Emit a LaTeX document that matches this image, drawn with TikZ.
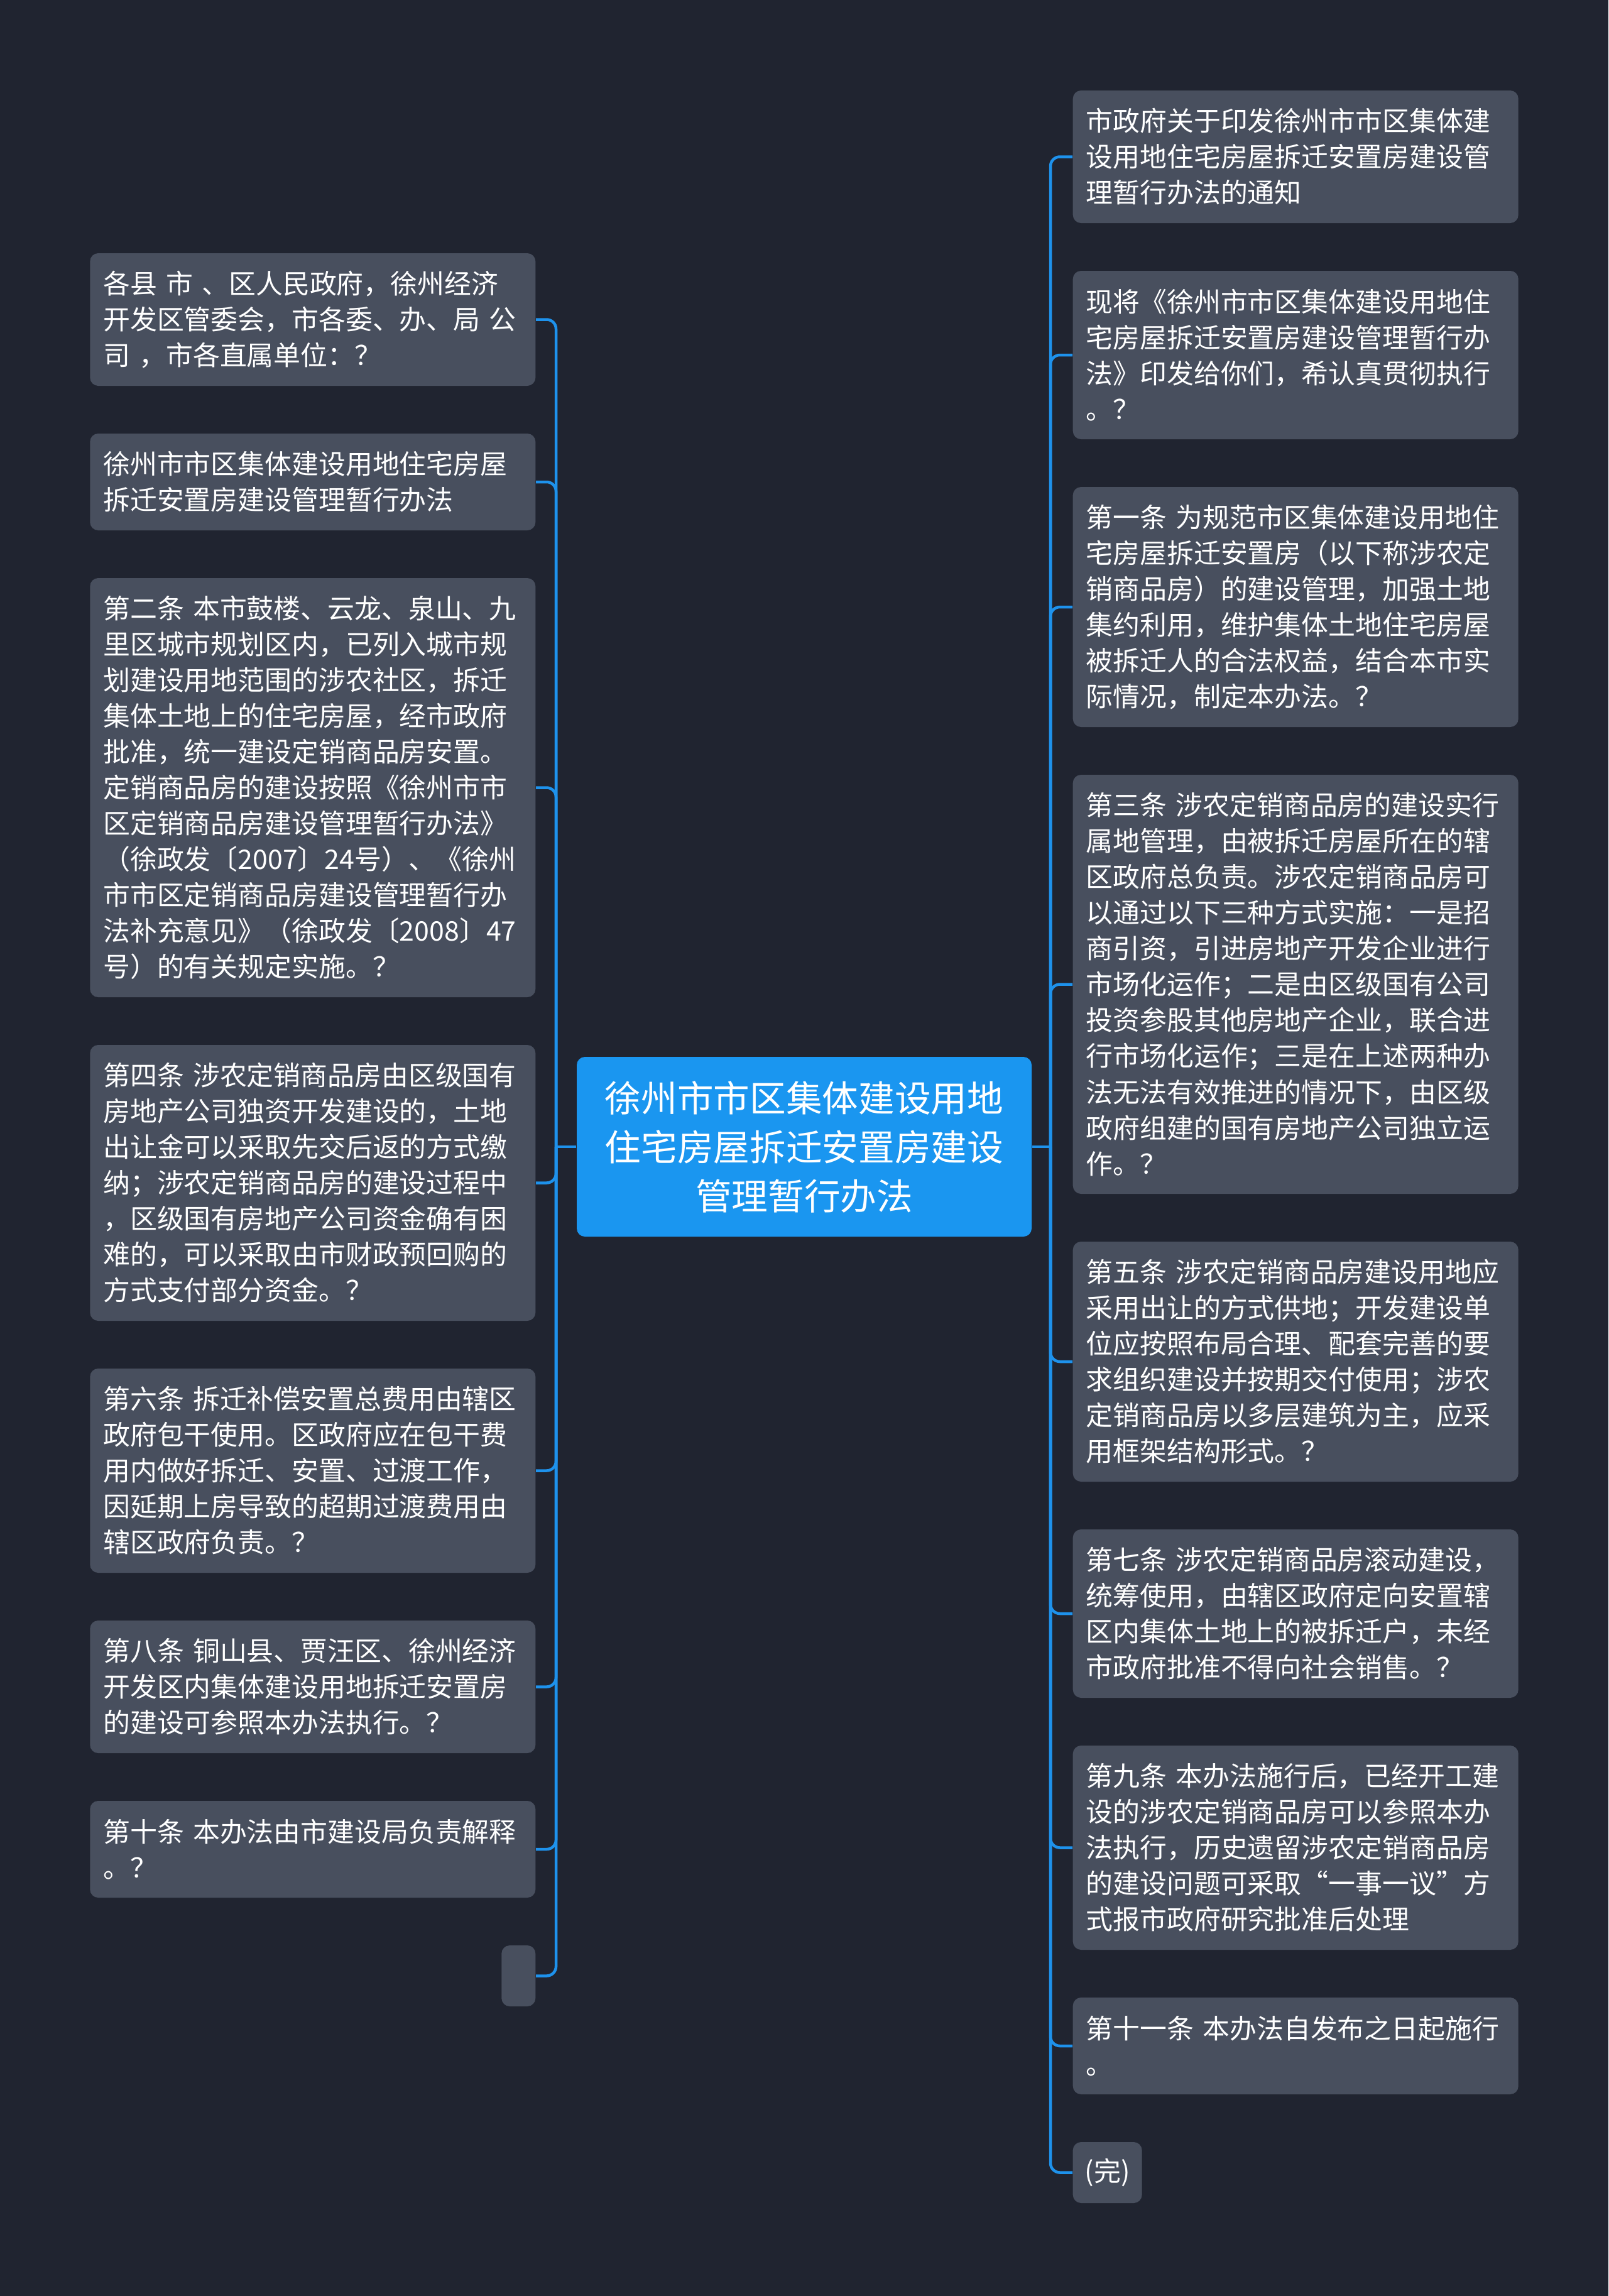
\documentclass[tikz,border=0pt]{standalone}
\usepackage{fontspec}
\setmainfont{Noto Sans CJK SC}

\definecolor{bgc}{RGB}{32,36,48}
\definecolor{boxc}{RGB}{72,79,94}
\definecolor{rootc}{RGB}{26,150,240}
\definecolor{linkc}{RGB}{30,146,236}

\tikzstyle{element}=[rectangle, fill=boxc, text=white, rounded corners=0.13cm,
                     inner xsep=0.21cm, inner ysep=0cm,
                     font=\fontsize{12.2pt}{16.22pt}\selectfont]
\tikzstyle{leaf}=[element, text width=6.67cm, align=left]
\tikzstyle{lleaf}=[leaf, anchor=east]
\tikzstyle{rleaf}=[leaf, anchor=west]
\tikzstyle{root}=[rectangle, fill=rootc, text=white, rounded corners=0.13cm,
                  minimum width=7.24cm, minimum height=2.86cm, align=center,
                  font=\fontsize{16.4pt}{22.2pt}\selectfont]
\tikzstyle{link}=[draw=linkc, line width=0.045cm, rounded corners=0.15cm]
\tikzset{nlines/.style={minimum height={0.4cm+#1*0.57cm}}}

\begin{document}
\begin{tikzpicture}

\fill[bgc] (0, 0) rectangle (25.6, -36.54);
\useasboundingbox (0, 0) rectangle (25.6, -36.54);

%%%%%%%%%%%%%%%%%%%%%%%%%%%%%%
% nodes

% root
\node (root) at (12.80, -18.25) [root] {徐州市市区集体建设用地\\住宅房屋拆迁安置房建设\\管理暂行办法};

% left
\node (l1) at (8.53, -5.085) [lleaf, nlines=3] {各县 市 、区人民政府，徐州经济\\开发区管委会，市各委、办、局 公\\司 ，市各直属单位：？};
\node (l2) at (8.53, -7.67) [lleaf, nlines=2] {徐州市市区集体建设用地住宅房屋\\拆迁安置房建设管理暂行办法};
\node (l3) at (8.53, -12.535) [lleaf, nlines=11] {第二条 本市鼓楼、云龙、泉山、九\\里区城市规划区内，已列入城市规\\划建设用地范围的涉农社区，拆迁\\集体土地上的住宅房屋，经市政府\\批准，统一建设定销商品房安置。\\定销商品房的建设按照《徐州市市\\区定销商品房建设管理暂行办法》\\（徐政发〔2007〕24号）、《徐州\\市市区定销商品房建设管理暂行办\\法补充意见》（徐政发〔2008〕47\\号）的有关规定实施。？};
\node (l4) at (8.53, -18.825) [lleaf, nlines=7] {第四条 涉农定销商品房由区级国有\\房地产公司独资开发建设的，土地\\出让金可以采取先交后返的方式缴\\纳；涉农定销商品房的建设过程中\\，区级国有房地产公司资金确有困\\难的，可以采取由市财政预回购的\\方式支付部分资金。？};
\node (l5) at (8.53, -23.405) [lleaf, nlines=5] {第六条 拆迁补偿安置总费用由辖区\\政府包干使用。区政府应在包干费\\用内做好拆迁、安置、过渡工作，\\因延期上房导致的超期过渡费用由\\辖区政府负责。？};
\node (l6) at (8.53, -26.845) [lleaf, nlines=3] {第八条 铜山县、贾汪区、徐州经济\\开发区内集体建设用地拆迁安置房\\的建设可参照本办法执行。？};
\node (l7) at (8.53, -29.43) [lleaf, nlines=2] {第十条 本办法由市建设局负责解释\\。？};
\node (l8) at (8.53, -31.445) [element, nlines=1, minimum width=0.54cm, anchor=east] {};

% right
\node (r1) at (17.07, -2.495) [rleaf, nlines=3] {市政府关于印发徐州市市区集体建\\设用地住宅房屋拆迁安置房建设管\\理暂行办法的通知};
\node (r2) at (17.07, -5.65) [rleaf, nlines=4] {现将《徐州市市区集体建设用地住\\宅房屋拆迁安置房建设管理暂行办\\法》印发给你们，希认真贯彻执行\\。？};
\node (r3) at (17.07, -9.66) [rleaf, nlines=6] {第一条 为规范市区集体建设用地住\\宅房屋拆迁安置房（以下称涉农定\\销商品房）的建设管理，加强土地\\集约利用，维护集体土地住宅房屋\\被拆迁人的合法权益，结合本市实\\际情况，制定本办法。？};
\node (r4) at (17.07, -15.665) [rleaf, nlines=11] {第三条 涉农定销商品房的建设实行\\属地管理，由被拆迁房屋所在的辖\\区政府总负责。涉农定销商品房可\\以通过以下三种方式实施：一是招\\商引资，引进房地产开发企业进行\\市场化运作；二是由区级国有公司\\投资参股其他房地产企业，联合进\\行市场化运作；三是在上述两种办\\法无法有效推进的情况下，由区级\\政府组建的国有房地产公司独立运\\作。？};
\node (r5) at (17.07, -21.67) [rleaf, nlines=6] {第五条 涉农定销商品房建设用地应\\采用出让的方式供地；开发建设单\\位应按照布局合理、配套完善的要\\求组织建设并按期交付使用；涉农\\定销商品房以多层建筑为主，应采\\用框架结构形式。？};
\node (r6) at (17.07, -25.68) [rleaf, nlines=4] {第七条 涉农定销商品房滚动建设，\\统筹使用，由辖区政府定向安置辖\\区内集体土地上的被拆迁户，未经\\市政府批准不得向社会销售。？};
\node (r7) at (17.07, -29.405) [rleaf, nlines=5] {第九条 本办法施行后，已经开工建\\设的涉农定销商品房可以参照本办\\法执行，历史遗留涉农定销商品房\\的建设问题可采取“一事一议”方\\式报市政府研究批准后处理};
\node (r8) at (17.07, -32.56) [rleaf, nlines=2] {第十一条 本办法自发布之日起施行\\。};
\node (r9) at (17.07, -34.575) [element, nlines=1, anchor=west, inner xsep=0.19cm] {(完)};

%%%%%%%%%%%%%%%%%%%%%%%%%%%%%%
% links

\coordinate (lsp) at (8.85, -18.25);
\coordinate (rsp) at (16.72, -18.25);

\draw [link] (root.west) -- (lsp);
\draw [link] (root.east) -- (rsp);

% left
\draw [link] (lsp) |- (l1.east);
\draw [link] (lsp) |- (l2.east);
\draw [link] (lsp) |- (l3.east);
\draw [link] (lsp) |- (l4.east);
\draw [link] (lsp) |- (l5.east);
\draw [link] (lsp) |- (l6.east);
\draw [link] (lsp) |- (l7.east);
\draw [link] (lsp) |- (l8.east);

% right
\draw [link] (rsp) |- (r1.west);
\draw [link] (rsp) |- (r2.west);
\draw [link] (rsp) |- (r3.west);
\draw [link] (rsp) |- (r4.west);
\draw [link] (rsp) |- (r5.west);
\draw [link] (rsp) |- (r6.west);
\draw [link] (rsp) |- (r7.west);
\draw [link] (rsp) |- (r8.west);
\draw [link] (rsp) |- (r9.west);

\end{tikzpicture}
\end{document}
